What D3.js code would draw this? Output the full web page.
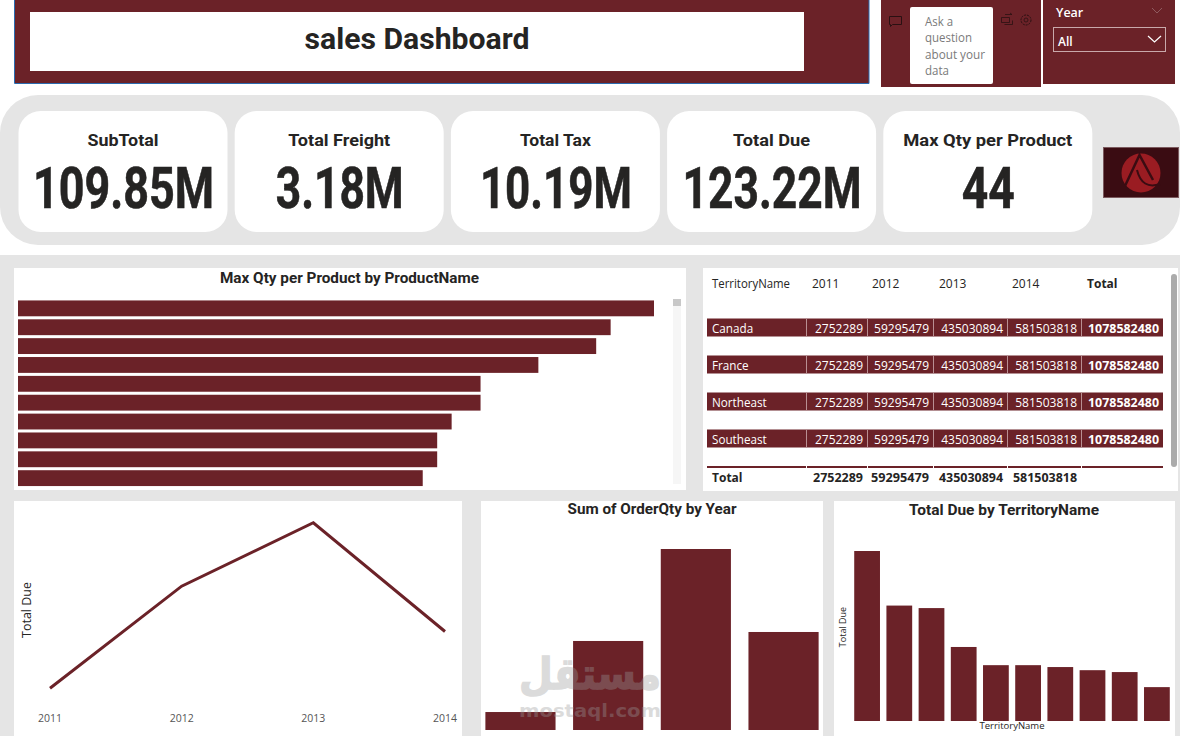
<!DOCTYPE html>
<html><head><meta charset="utf-8">
<script src="https://cdnjs.cloudflare.com/ajax/libs/d3/7.8.5/d3.min.js"></script>
<style>html,body{margin:0;padding:0;background:#fff;overflow:hidden}svg{display:block}</style>
</head><body><div id="c"></div>
<script>
const maroon="#6b2228", grey="#e5e5e5", ink="#252423";
const kpiTitles=["SubTotal","Total Freight","Total Tax","Total Due","Max Qty per Product"];
const kpiValues=["109.85M","3.18M","10.19M","123.22M","44"];
const productQty=[44,41,40,36,32,32,30,29,29,28];
const productIdx=d3.range(productQty.length);
const tableHead=["TerritoryName","2011","2012","2013","2014","Total"];
const tableRows=["Canada","France","Northeast","Southeast"];
const tableVals=["2752289","59295479","435030894","581503818","1078582480"];
const tableTotals=["2752289","59295479","435030894","581503818"];
const years=["2011","2012","2013","2014"];
const dueByYear=[14.1,35.5,48.8,26];
const qtyByYear=[12.8,63.4,128.9,69.8];
const territories=["Southwest","Canada","Northwest","Australia","United Kingdom","France","Germany","Northeast","Southeast","Central"];
const dueByTerritory=[27.1,18.4,18.0,11.8,8.9,8.9,8.6,8.1,7.8,5.4];

const svg=d3.select("#c").append("svg").attr("width",1180).attr("height",736);
const din="Roboto, 'Noto Sans', sans-serif", seg="'Open Sans','Noto Sans',sans-serif";
function rect(x,y,w,h,f,r){return svg.append("rect").attr("x",x).attr("y",y).attr("width",w).attr("height",h).attr("fill",f).attr("rx",r||0);}
function text(s,x,y,o){o=o||{};const t=svg.append("text").attr("x",x).attr("y",y).text(s)
 .attr("font-family",o.f||seg).attr("font-size",o.s||12).attr("font-weight",o.w||400)
 .attr("fill",o.c||ink).attr("text-anchor",o.a||"start");
 if(o.l)t.attr("textLength",o.l).attr("lengthAdjust","spacingAndGlyphs");
 if(o.o)t.attr("opacity",o.o);
 return t;}

// page
rect(0,255,1180,481,grey);
rect(0,95,1180,150,grey,38);

// header
rect(14,0,855,83,maroon);
svg.append("path").attr("d","M14.5,0V83.5H869V0").attr("fill","none").attr("stroke","#2a6cb0").attr("stroke-width",1);
rect(30,12,774,59,"#fff");
text("sales Dashboard",417,49,{f:din,s:29,w:700,a:"middle",l:225});

// Q&A
rect(881,0,160,87,maroon);
rect(910,7,83,77,"#fff",2);
["Ask a","question","about your","data"].forEach((s,i)=>text(s,925,26+i*16.4,{s:12,c:"#7a7a7a",l:[28,47,60,24][i]}));
svg.append("path").attr("d","M889.5,16.5h12v8h-9l-2,2v-2h-1z").attr("fill","none").attr("stroke","#2a1012");
svg.append("path").attr("d","M1001.5,17.5h8v5h-8zM1004.5,24.5h8v-4M1005,14.5h7l-2,-1.500").attr("fill","none").attr("stroke","#2a1012").attr("stroke-width",.8);
svg.append("circle").attr("cx",1026).attr("cy",20).attr("r",5).attr("fill","none").attr("stroke","#2a1012").attr("stroke-dasharray","2 1");
svg.append("circle").attr("cx",1026).attr("cy",20).attr("r",2).attr("fill","none").attr("stroke","#2a1012").attr("stroke-width",.8);

// slicer
rect(1043,0,132,84,maroon);
text("Year",1056,17,{s:12.5,w:600,c:"#fff"});
svg.append("path").attr("d","M1152,8l5,5l5,-5").attr("fill","none").attr("stroke","#8f5a5f");
svg.append("rect").attr("x",1053.5).attr("y",27.5).attr("width",112).attr("height",24).attr("fill","none").attr("stroke","#c9a9ab");
text("All",1058,46,{s:12,w:600,c:"#fff"});
svg.append("path").attr("d","M1148,36l6.500,6l6.500,-6").attr("fill","none").attr("stroke","#fff").attr("stroke-width",1.2);

// KPI cards
const titleW=[71,102,71,77,169], valW=[181,128,152,179,53];
kpiTitles.forEach((t,i)=>{
 const x=18.5+i*216.2, cx=x+104.5;
 rect(x,111,209,121,"#fff",22);
 text(t,cx,146,{f:din,s:17,w:700,a:"middle",l:titleW[i]});
 text(kpiValues[i],cx+.5,207.500,{f:din,s:57,w:700,a:"middle",l:valW[i]}).attr("stroke",ink).attr("stroke-width",.6);
});

// logo
rect(1103.500,147.500,75,50,"#3a0c12").attr("stroke","#7b5a5e");
svg.append("circle").attr("cx",1141).attr("cy",173).attr("r",19.500).attr("fill","#9a1c22");
svg.append("path").attr("d","M1125,186L1139.500,155L1153,180").attr("fill","none").attr("stroke","#3a0c12").attr("stroke-width",2.500);
svg.append("path").attr("d","M1137,170Q1142,190 1160,184").attr("fill","none").attr("stroke","#3a0c12").attr("stroke-width",2);

// Horizontal bars
rect(14,268,672,222,"#fff");
text("Max Qty per Product by ProductName",349.500,283,{f:din,s:14.500,w:700,a:"middle",l:259});
const hx=d3.scaleLinear().domain([0,44]).range([18,654]);
const hy=d3.scaleBand().domain(productIdx).range([299.500,487]).paddingInner(0.16).paddingOuter(0.05);
svg.append("g").selectAll("rect").data(productQty).join("rect")
 .attr("x",hx(0)).attr("y",(d,i)=>hy(i)).attr("width",d=>hx(d)-hx(0)).attr("height",hy.bandwidth()).attr("fill",maroon);
rect(673,299,8,185,"#f6f6f6");
rect(673,299,8,7,"#c8c8c8");

// Table
rect(703,268,475,223,"#fff");
const headX=[712,812,872,939,1012,1087];
tableHead.forEach((h,i)=>text(h,headX[i],288,{s:12,w:i==5?700:400,c:ink,l:i==0?78:null}));
const rowY=[318.500,355.500,392.500,429.500];
const colDiv=[806,867,933,1007,1081], colRight=[863,929,1003,1077,1159];
tableRows.forEach((r,i)=>{
 const y=rowY[i];
 svg.append("rect").attr("x",707).attr("y",y).attr("width",456).attr("height",18).attr("fill",maroon);
 text(r,712,y+14,{s:11.700,c:"#fff"});
 tableVals.forEach((v,j)=>text(v,colRight[j],y+14,{s:12,a:"end",c:"#fff",w:j==4?700:400,l:j==4?71:null}));
 colDiv.forEach(x=>svg.append("line").attr("x1",x+.5).attr("x2",x+.5).attr("y1",y).attr("y2",y+18).attr("stroke","#b98f92"));
});
rect(707,466,456,2,maroon);
colDiv.forEach(x=>rect(x,466,1,2,"#fff"));
text("Total",712,482,{s:12,w:700});
const totalW=[50,58,64,64];
tableTotals.forEach((v,j)=>text(v,colRight[j],482,{s:12,a:"end",w:700,l:totalW[j]}));
rect(1171,274,6,193,"#ababab",3);

// Line
rect(14,501,448,235,"#fff");
const lx=d3.scalePoint().domain(years).range([50,445]);
const ly=d3.scaleLinear().domain([0,50]).range([755.500,517]);
svg.append("path").datum(dueByYear).attr("fill","none").attr("stroke",maroon).attr("stroke-width",3)
 .attr("d",d3.line().x((d,i)=>lx(years[i])).y(d=>ly(d)));
years.forEach(y=>text(y,lx(y),722,{s:10.500,a:"middle",c:"#555"}));
text("Total Due",0,0,{s:12.500,a:"middle",c:ink}).attr("transform","translate(31,610) rotate(-90)");

// Columns by year
rect(481,501,342,235,"#fff");
text("Sum of OrderQty by Year",652,514,{f:din,s:14.500,w:700,a:"middle",l:169});
const bx=d3.scaleBand().domain(years).range([481,823]).paddingInner(0.2).paddingOuter(0.05);
const by=d3.scaleLinear().domain([0,128.9]).range([730,549]);
svg.append("g").selectAll("rect").data(qtyByYear).join("rect")
 .attr("x",(d,i)=>bx(years[i])).attr("y",d=>by(d)).attr("width",bx.bandwidth()).attr("height",d=>by(0)-by(d)).attr("fill",maroon);

// Columns by territory
rect(834,501,341,235,"#fff");
text("Total Due by TerritoryName",1004,515,{f:din,s:14.500,w:700,a:"middle",l:190});
const tx=d3.scaleBand().domain(territories).range([851,1173]).paddingInner(0.2).paddingOuter(0.1);
const ty=d3.scaleLinear().domain([0,27.1]).range([721,551]);
svg.append("g").selectAll("rect").data(dueByTerritory).join("rect")
 .attr("x",(d,i)=>tx(territories[i])).attr("y",d=>ty(d)).attr("width",tx.bandwidth()).attr("height",d=>ty(0)-ty(d)).attr("fill",maroon);
text("Total Due",0,0,{s:9,a:"middle",c:ink}).attr("transform","translate(846,627) rotate(-90)");
text("TerritoryName",1012,729,{s:9.500,a:"middle",c:ink});

// watermark
text("مستقل",590,689,{f:"'DejaVu Sans',sans-serif",s:44,w:700,a:"middle",c:"#9a9a9a",o:.35,l:142}).attr("stroke","#9a9a9a").attr("stroke-width",1.5);
text("mostaql.com",590,717,{f:"'DejaVu Sans',sans-serif",s:17,w:700,a:"middle",c:"#9a9a9a",o:.35,l:142});
</script></body></html>
